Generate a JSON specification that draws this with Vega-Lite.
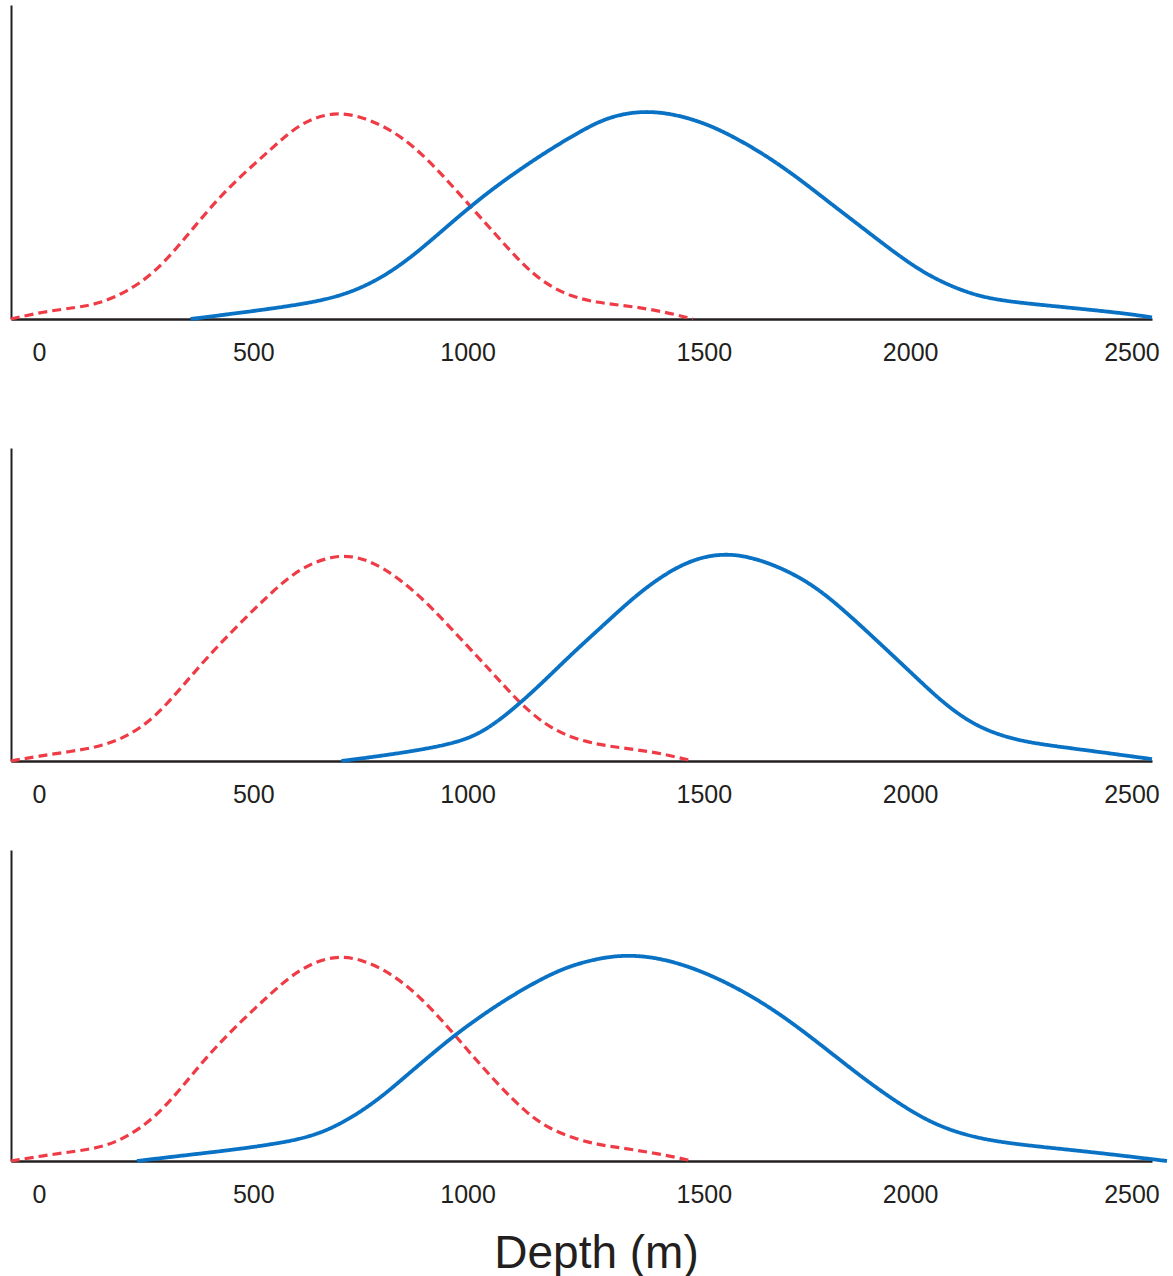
{
  "$schema": "https://vega.github.io/schema/vega-lite/v6.json",
  "padding": {"left": 4, "top": 5, "right": 0, "bottom": 0},
  "background": "white",
  "config": {
    "view": {"stroke": null},
    "font": "Liberation Sans",
    "axisX": {
      "ticks": false,
      "tickSize": 0,
      "grid": false,
      "domainColor": "#231f20",
      "domainWidth": 2.5,
      "labelFont": "Liberation Sans",
      "labelFontSize": 25,
      "labelColor": "#231f20",
      "labelPadding": 21,
      "labelBaseline": "top",
      "labelFlush": false,
      "labelOverlap": false,
      "labelOffset": {"expr": "datum.value == 0 ? 28 : datum.value == 500 ? 15 : datum.value == 1000 ? 2 : datum.value == 1500 ? 11 : datum.value == 2000 ? -10 : -16"}
    },
    "axisY": {
      "labels": false,
      "ticks": false,
      "grid": false,
      "title": null,
      "domainColor": "#231f20",
      "domainWidth": 2
    }
  },
  "datasets": {
    "curves": [
      {"panel": 1, "series": "red", "depth": 0, "value": 0},
      {"panel": 1, "series": "red", "depth": 70, "value": 0.023},
      {"panel": 1, "series": "red", "depth": 146, "value": 0.037},
      {"panel": 1, "series": "red", "depth": 197, "value": 0.05},
      {"panel": 1, "series": "red", "depth": 255, "value": 0.087},
      {"panel": 1, "series": "red", "depth": 315, "value": 0.146},
      {"panel": 1, "series": "red", "depth": 374, "value": 0.241},
      {"panel": 1, "series": "red", "depth": 433, "value": 0.347},
      {"panel": 1, "series": "red", "depth": 499, "value": 0.448},
      {"panel": 1, "series": "red", "depth": 568, "value": 0.535},
      {"panel": 1, "series": "red", "depth": 635, "value": 0.625},
      {"panel": 1, "series": "red", "depth": 711, "value": 0.662},
      {"panel": 1, "series": "red", "depth": 778, "value": 0.642},
      {"panel": 1, "series": "red", "depth": 836, "value": 0.602},
      {"panel": 1, "series": "red", "depth": 887, "value": 0.549},
      {"panel": 1, "series": "red", "depth": 946, "value": 0.464},
      {"panel": 1, "series": "red", "depth": 1005, "value": 0.368},
      {"panel": 1, "series": "red", "depth": 1064, "value": 0.273},
      {"panel": 1, "series": "red", "depth": 1123, "value": 0.177},
      {"panel": 1, "series": "red", "depth": 1173, "value": 0.114},
      {"panel": 1, "series": "red", "depth": 1232, "value": 0.071},
      {"panel": 1, "series": "red", "depth": 1291, "value": 0.052},
      {"panel": 1, "series": "red", "depth": 1337, "value": 0.045},
      {"panel": 1, "series": "red", "depth": 1420, "value": 0.029},
      {"panel": 1, "series": "red", "depth": 1500, "value": 0},
      {"panel": 1, "series": "blue", "depth": 395, "value": 0},
      {"panel": 1, "series": "blue", "depth": 483, "value": 0.016},
      {"panel": 1, "series": "blue", "depth": 568, "value": 0.032},
      {"panel": 1, "series": "blue", "depth": 651, "value": 0.05},
      {"panel": 1, "series": "blue", "depth": 719, "value": 0.071},
      {"panel": 1, "series": "blue", "depth": 786, "value": 0.108},
      {"panel": 1, "series": "blue", "depth": 854, "value": 0.167},
      {"panel": 1, "series": "blue", "depth": 921, "value": 0.246},
      {"panel": 1, "series": "blue", "depth": 988, "value": 0.331},
      {"panel": 1, "series": "blue", "depth": 1056, "value": 0.411},
      {"panel": 1, "series": "blue", "depth": 1123, "value": 0.48},
      {"panel": 1, "series": "blue", "depth": 1190, "value": 0.544},
      {"panel": 1, "series": "blue", "depth": 1258, "value": 0.602},
      {"panel": 1, "series": "blue", "depth": 1304, "value": 0.636},
      {"panel": 1, "series": "blue", "depth": 1354, "value": 0.656},
      {"panel": 1, "series": "blue", "depth": 1408, "value": 0.662},
      {"panel": 1, "series": "blue", "depth": 1470, "value": 0.649},
      {"panel": 1, "series": "blue", "depth": 1537, "value": 0.618},
      {"panel": 1, "series": "blue", "depth": 1603, "value": 0.57},
      {"panel": 1, "series": "blue", "depth": 1670, "value": 0.512},
      {"panel": 1, "series": "blue", "depth": 1737, "value": 0.443},
      {"panel": 1, "series": "blue", "depth": 1803, "value": 0.368},
      {"panel": 1, "series": "blue", "depth": 1870, "value": 0.294},
      {"panel": 1, "series": "blue", "depth": 1936, "value": 0.22},
      {"panel": 1, "series": "blue", "depth": 2003, "value": 0.151},
      {"panel": 1, "series": "blue", "depth": 2069, "value": 0.103},
      {"panel": 1, "series": "blue", "depth": 2136, "value": 0.069},
      {"panel": 1, "series": "blue", "depth": 2211, "value": 0.053},
      {"panel": 1, "series": "blue", "depth": 2294, "value": 0.041},
      {"panel": 1, "series": "blue", "depth": 2377, "value": 0.029},
      {"panel": 1, "series": "blue", "depth": 2460, "value": 0.016},
      {"panel": 1, "series": "blue", "depth": 2510, "value": 0.005},
      {"panel": 2, "series": "red", "depth": 0, "value": 0},
      {"panel": 2, "series": "red", "depth": 62, "value": 0.016},
      {"panel": 2, "series": "red", "depth": 130, "value": 0.03},
      {"panel": 2, "series": "red", "depth": 197, "value": 0.046},
      {"panel": 2, "series": "red", "depth": 256, "value": 0.078},
      {"panel": 2, "series": "red", "depth": 315, "value": 0.137},
      {"panel": 2, "series": "red", "depth": 374, "value": 0.233},
      {"panel": 2, "series": "red", "depth": 433, "value": 0.334},
      {"panel": 2, "series": "red", "depth": 500, "value": 0.435},
      {"panel": 2, "series": "red", "depth": 568, "value": 0.532},
      {"panel": 2, "series": "red", "depth": 635, "value": 0.618},
      {"panel": 2, "series": "red", "depth": 719, "value": 0.663},
      {"panel": 2, "series": "red", "depth": 786, "value": 0.645},
      {"panel": 2, "series": "red", "depth": 854, "value": 0.584},
      {"panel": 2, "series": "red", "depth": 921, "value": 0.498},
      {"panel": 2, "series": "red", "depth": 988, "value": 0.392},
      {"panel": 2, "series": "red", "depth": 1056, "value": 0.287},
      {"panel": 2, "series": "red", "depth": 1115, "value": 0.191},
      {"panel": 2, "series": "red", "depth": 1173, "value": 0.117},
      {"panel": 2, "series": "red", "depth": 1232, "value": 0.074},
      {"panel": 2, "series": "red", "depth": 1291, "value": 0.053},
      {"panel": 2, "series": "red", "depth": 1337, "value": 0.043},
      {"panel": 2, "series": "red", "depth": 1420, "value": 0.028},
      {"panel": 2, "series": "red", "depth": 1500, "value": 0},
      {"panel": 2, "series": "blue", "depth": 727, "value": 0},
      {"panel": 2, "series": "blue", "depth": 786, "value": 0.011},
      {"panel": 2, "series": "blue", "depth": 854, "value": 0.025},
      {"panel": 2, "series": "blue", "depth": 921, "value": 0.041},
      {"panel": 2, "series": "blue", "depth": 988, "value": 0.062},
      {"panel": 2, "series": "blue", "depth": 1039, "value": 0.094},
      {"panel": 2, "series": "blue", "depth": 1089, "value": 0.147},
      {"panel": 2, "series": "blue", "depth": 1140, "value": 0.211},
      {"panel": 2, "series": "blue", "depth": 1190, "value": 0.28},
      {"panel": 2, "series": "blue", "depth": 1241, "value": 0.352},
      {"panel": 2, "series": "blue", "depth": 1304, "value": 0.435},
      {"panel": 2, "series": "blue", "depth": 1354, "value": 0.502},
      {"panel": 2, "series": "blue", "depth": 1404, "value": 0.562},
      {"panel": 2, "series": "blue", "depth": 1462, "value": 0.618},
      {"panel": 2, "series": "blue", "depth": 1520, "value": 0.653},
      {"panel": 2, "series": "blue", "depth": 1579, "value": 0.663},
      {"panel": 2, "series": "blue", "depth": 1637, "value": 0.648},
      {"panel": 2, "series": "blue", "depth": 1703, "value": 0.612},
      {"panel": 2, "series": "blue", "depth": 1770, "value": 0.557},
      {"panel": 2, "series": "blue", "depth": 1836, "value": 0.477},
      {"panel": 2, "series": "blue", "depth": 1903, "value": 0.387},
      {"panel": 2, "series": "blue", "depth": 1970, "value": 0.296},
      {"panel": 2, "series": "blue", "depth": 2036, "value": 0.205},
      {"panel": 2, "series": "blue", "depth": 2086, "value": 0.147},
      {"panel": 2, "series": "blue", "depth": 2136, "value": 0.104},
      {"panel": 2, "series": "blue", "depth": 2194, "value": 0.074},
      {"panel": 2, "series": "blue", "depth": 2253, "value": 0.056},
      {"panel": 2, "series": "blue", "depth": 2336, "value": 0.04},
      {"panel": 2, "series": "blue", "depth": 2419, "value": 0.024},
      {"panel": 2, "series": "blue", "depth": 2510, "value": 0.006},
      {"panel": 3, "series": "red", "depth": 0, "value": 0},
      {"panel": 3, "series": "red", "depth": 70, "value": 0.017},
      {"panel": 3, "series": "red", "depth": 146, "value": 0.032},
      {"panel": 3, "series": "red", "depth": 205, "value": 0.046},
      {"panel": 3, "series": "red", "depth": 256, "value": 0.078},
      {"panel": 3, "series": "red", "depth": 315, "value": 0.137},
      {"panel": 3, "series": "red", "depth": 374, "value": 0.233},
      {"panel": 3, "series": "red", "depth": 433, "value": 0.34},
      {"panel": 3, "series": "red", "depth": 500, "value": 0.441},
      {"panel": 3, "series": "red", "depth": 568, "value": 0.534},
      {"panel": 3, "series": "red", "depth": 635, "value": 0.62},
      {"panel": 3, "series": "red", "depth": 711, "value": 0.663},
      {"panel": 3, "series": "red", "depth": 778, "value": 0.647},
      {"panel": 3, "series": "red", "depth": 845, "value": 0.595},
      {"panel": 3, "series": "red", "depth": 904, "value": 0.522},
      {"panel": 3, "series": "red", "depth": 963, "value": 0.428},
      {"panel": 3, "series": "red", "depth": 1014, "value": 0.34},
      {"panel": 3, "series": "red", "depth": 1073, "value": 0.244},
      {"panel": 3, "series": "red", "depth": 1131, "value": 0.158},
      {"panel": 3, "series": "red", "depth": 1182, "value": 0.105},
      {"panel": 3, "series": "red", "depth": 1241, "value": 0.071},
      {"panel": 3, "series": "red", "depth": 1291, "value": 0.053},
      {"panel": 3, "series": "red", "depth": 1337, "value": 0.043},
      {"panel": 3, "series": "red", "depth": 1420, "value": 0.025},
      {"panel": 3, "series": "red", "depth": 1500, "value": 0},
      {"panel": 3, "series": "blue", "depth": 277, "value": 0},
      {"panel": 3, "series": "blue", "depth": 357, "value": 0.014},
      {"panel": 3, "series": "blue", "depth": 441, "value": 0.028},
      {"panel": 3, "series": "blue", "depth": 525, "value": 0.043},
      {"panel": 3, "series": "blue", "depth": 609, "value": 0.062},
      {"panel": 3, "series": "blue", "depth": 668, "value": 0.083},
      {"panel": 3, "series": "blue", "depth": 719, "value": 0.115},
      {"panel": 3, "series": "blue", "depth": 769, "value": 0.158},
      {"panel": 3, "series": "blue", "depth": 820, "value": 0.212},
      {"panel": 3, "series": "blue", "depth": 871, "value": 0.276},
      {"panel": 3, "series": "blue", "depth": 921, "value": 0.338},
      {"panel": 3, "series": "blue", "depth": 972, "value": 0.4},
      {"panel": 3, "series": "blue", "depth": 1030, "value": 0.462},
      {"panel": 3, "series": "blue", "depth": 1089, "value": 0.52},
      {"panel": 3, "series": "blue", "depth": 1157, "value": 0.578},
      {"panel": 3, "series": "blue", "depth": 1224, "value": 0.626},
      {"panel": 3, "series": "blue", "depth": 1304, "value": 0.656},
      {"panel": 3, "series": "blue", "depth": 1362, "value": 0.662},
      {"panel": 3, "series": "blue", "depth": 1420, "value": 0.654},
      {"panel": 3, "series": "blue", "depth": 1487, "value": 0.628},
      {"panel": 3, "series": "blue", "depth": 1554, "value": 0.588},
      {"panel": 3, "series": "blue", "depth": 1620, "value": 0.538},
      {"panel": 3, "series": "blue", "depth": 1687, "value": 0.477},
      {"panel": 3, "series": "blue", "depth": 1753, "value": 0.406},
      {"panel": 3, "series": "blue", "depth": 1820, "value": 0.329},
      {"panel": 3, "series": "blue", "depth": 1886, "value": 0.254},
      {"panel": 3, "series": "blue", "depth": 1953, "value": 0.185},
      {"panel": 3, "series": "blue", "depth": 2020, "value": 0.126},
      {"panel": 3, "series": "blue", "depth": 2086, "value": 0.089},
      {"panel": 3, "series": "blue", "depth": 2153, "value": 0.066},
      {"panel": 3, "series": "blue", "depth": 2236, "value": 0.05},
      {"panel": 3, "series": "blue", "depth": 2336, "value": 0.035},
      {"panel": 3, "series": "blue", "depth": 2435, "value": 0.019},
      {"panel": 3, "series": "blue", "depth": 2543, "value": 0}
    ]
  },
  "spacing": 83,
  "vconcat": [
    {
      "width": 1141,
      "height": 314,
      "data": {"name": "curves"},
      "transform": [{"filter": "datum.panel == 1"}],
      "mark": {"type": "line", "interpolate": "basis"},
      "encoding": {
        "x": {"field": "depth", "type": "quantitative", "scale": {"domain": [0, 2510], "nice": false, "zero": false}, "axis": {"title": null, "values": [0, 500, 1000, 1500, 2000, 2500], "format": "d"}},
        "y": {"field": "value", "type": "quantitative", "scale": {"domain": [0, 1], "nice": false}},
        "color": {"field": "series", "type": "nominal", "scale": {"domain": ["red", "blue"], "range": ["#ef3b45", "#0a72c4"]}, "legend": null},
        "strokeDash": {"field": "series", "type": "nominal", "scale": {"domain": ["red", "blue"], "range": [[9, 5], [1, 0]]}, "legend": null},
        "strokeWidth": {"field": "series", "type": "nominal", "scale": {"domain": ["red", "blue"], "range": [3.2, 3.8]}, "legend": null}
      }
    },
    {
      "spacing": 43,
      "vconcat": [
        {
          "width": 1141,
          "height": 313,
          "data": {"name": "curves"},
          "transform": [{"filter": "datum.panel == 2"}],
          "mark": {"type": "line", "interpolate": "basis"},
          "encoding": {
            "x": {"field": "depth", "type": "quantitative", "scale": {"domain": [0, 2510], "nice": false, "zero": false}, "axis": {"title": null, "values": [0, 500, 1000, 1500, 2000, 2500], "format": "d"}},
            "y": {"field": "value", "type": "quantitative", "scale": {"domain": [0, 1], "nice": false}},
            "color": {"field": "series", "type": "nominal", "scale": {"domain": ["red", "blue"], "range": ["#ef3b45", "#0a72c4"]}, "legend": null},
            "strokeDash": {"field": "series", "type": "nominal", "scale": {"domain": ["red", "blue"], "range": [[9, 5], [1, 0]]}, "legend": null},
            "strokeWidth": {"field": "series", "type": "nominal", "scale": {"domain": ["red", "blue"], "range": [3.2, 3.8]}, "legend": null}
          }
        },
        {
          "width": 1141,
          "height": 311,
          "data": {"name": "curves"},
          "transform": [{"filter": "datum.panel == 3"}],
          "mark": {"type": "line", "interpolate": "basis"},
          "encoding": {
            "x": {"field": "depth", "type": "quantitative", "scale": {"domain": [0, 2510], "nice": false, "zero": false},
              "axis": {"values": [0, 500, 1000, 1500, 2000, 2500], "format": "d", "title": "Depth (m)", "titleFont": "Liberation Sans", "titleFontSize": 46, "titleFontWeight": "normal", "titleColor": "#231f20", "titleX": 585, "titleY": 106, "titleBaseline": "alphabetic", "titleAlign": "center", "titleAnchor": "middle"}},
            "y": {"field": "value", "type": "quantitative", "scale": {"domain": [0, 1], "nice": false}},
            "color": {"field": "series", "type": "nominal", "scale": {"domain": ["red", "blue"], "range": ["#ef3b45", "#0a72c4"]}, "legend": null},
            "strokeDash": {"field": "series", "type": "nominal", "scale": {"domain": ["red", "blue"], "range": [[9, 5], [1, 0]]}, "legend": null},
            "strokeWidth": {"field": "series", "type": "nominal", "scale": {"domain": ["red", "blue"], "range": [3.2, 3.8]}, "legend": null}
          }
        }
      ]
    }
  ]
}
